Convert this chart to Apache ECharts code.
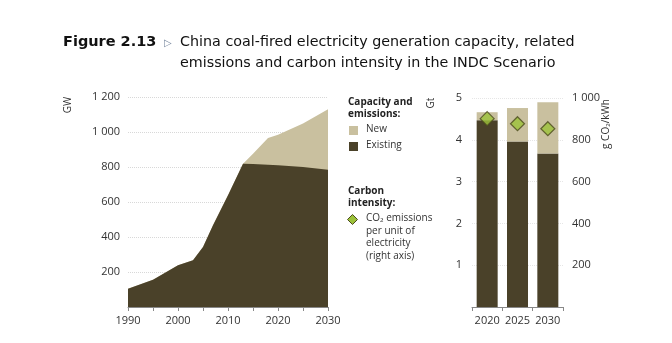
<!DOCTYPE html>
<html><head><meta charset="utf-8">
<script src="https://cdn.jsdelivr.net/npm/echarts@6/dist/echarts.min.js"></script>
<style>html,body{margin:0;padding:0;background:#fff}#c{width:672px;height:343px}</style>
</head><body><div id="c"></div>
<script>
// Capacity (GW)
const capYears = [1990, 1995, 2000, 2003, 2005, 2007, 2010, 2013, 2015, 2018, 2020, 2025, 2030];
const capExisting = [105, 156, 238, 267, 343, 467, 638, 819, 817, 813, 810, 800, 785];
const capNew = [0, 0, 0, 0, 0, 0, 0, 0, 59, 153, 175, 248, 345];
// Emissions (Gt) and carbon intensity (g CO2/kWh)
const emYears = ['2020', '2025', '2030'];
const emExisting = [4.47, 3.96, 3.67];
const emNew = [0.19, 0.80, 1.23];
const intensity = [901, 877, 853];

const cDark = '#4a4129', cLight = '#c9c09f', cGreen = '#9cc23a';
const font = 'Open Sans';
const sp = v => v >= 1000 ? String(v).replace(/(\d)(\d{3})$/, '$1 $2') : String(v);

const capTotal = capExisting.map((v, i) => v + capNew[i]);

const chart = echarts.init(document.getElementById('c'));
chart.setOption({
  animation: false,
  textStyle: {fontFamily: font},
  grid: [
    {left: 128, right: 344, top: 97, bottom: 36},
    {left: 472, right: 109, top: 98, bottom: 36}
  ],
  xAxis: [
    {gridIndex: 0, type: 'value', min: 1990, max: 2030, interval: 5,
     axisLine: {lineStyle: {color: '#888'}}, axisTick: {show: true, length: 4, lineStyle: {color: '#888'}},
     splitLine: {show: false},
     axisLabel: {color: '#333', fontSize: 11, margin: 8, formatter: v => v % 10 === 0 ? String(v) : ''}},
    {gridIndex: 1, type: 'category', data: emYears,
     axisLine: {lineStyle: {color: '#888'}}, axisTick: {show: true, length: 4, lineStyle: {color: '#888'}},
     axisLabel: {color: '#333', fontSize: 11, margin: 8, interval: 0}}
  ],
  yAxis: [
    {gridIndex: 0, type: 'value', min: 0, max: 1200, interval: 200,
     axisLine: {show: false}, axisTick: {show: false},
     splitLine: {lineStyle: {color: '#d8d8d8', type: 'dotted'}},
     axisLabel: {color: '#333', fontSize: 11, margin: 8, formatter: v => v === 0 ? '' : sp(v)}},
    {gridIndex: 1, type: 'value', min: 0, max: 5, interval: 1,
     axisLine: {show: false}, axisTick: {show: false},
     splitLine: {lineStyle: {color: '#e6e6e6', type: 'dotted'}},
     axisLabel: {color: '#333', fontSize: 11, margin: 10, formatter: v => v === 0 ? '' : String(v)}},
    {gridIndex: 1, type: 'value', position: 'right', min: 0, max: 1000, interval: 200,
     axisLine: {show: false}, axisTick: {show: false},
     splitLine: {show: false},
     axisLabel: {color: '#333', fontSize: 11, margin: 9, formatter: v => v === 0 ? '' : sp(v)}}
  ],
  series: [
    {name: 'New', type: 'line', xAxisIndex: 0, yAxisIndex: 0, symbol: 'none',
     data: capYears.map((y, i) => [y, capTotal[i]]),
     lineStyle: {width: 0}, areaStyle: {color: cLight, opacity: 1}, z: 1},
    {name: 'Existing', type: 'line', xAxisIndex: 0, yAxisIndex: 0, symbol: 'none',
     data: capYears.map((y, i) => [y, capExisting[i]]),
     lineStyle: {width: 0}, areaStyle: {color: cDark, opacity: 1}, z: 2},
    {name: 'Existing Gt', type: 'bar', xAxisIndex: 1, yAxisIndex: 1, stack: 'em', barWidth: 21,
     data: emExisting, itemStyle: {color: cDark}},
    {name: 'New Gt', type: 'bar', xAxisIndex: 1, yAxisIndex: 1, stack: 'em', barWidth: 21,
     data: emNew, itemStyle: {color: cLight}},
    {name: 'Intensity', type: 'scatter', xAxisIndex: 1, yAxisIndex: 2, symbol: 'diamond', symbolSize: [14, 14],
     data: intensity, itemStyle: {color: cGreen, borderColor: '#4b4a1e', borderWidth: 1.2}, z: 5}
  ],
  graphic: [
    {type: 'text', left: 63, top: 35, style: {text: 'Figure 2.13', font: 'bold 14.5px "DejaVu Sans"', fill: '#111'}},
    {type: 'text', left: 164, top: 38, style: {text: '▷', font: '10px "DejaVu Sans"', fill: '#7a8aa0'}},
    {type: 'text', left: 180, top: 35, style: {text: 'China coal-fired electricity generation capacity, related', font: '14.3px "DejaVu Sans"', fill: '#111'}},
    {type: 'text', left: 180, top: 56, style: {text: 'emissions and carbon intensity in the INDC Scenario', font: '14.3px "DejaVu Sans"', fill: '#111'}},
    {type: 'text', x: 68, y: 105, rotation: Math.PI / 2, style: {text: 'GW', font: '10px "Open Sans"', fill: '#333', align: 'center', verticalAlign: 'middle'}},
    {type: 'text', x: 431, y: 103, rotation: Math.PI / 2, style: {text: 'Gt', font: '10px "Open Sans"', fill: '#333', align: 'center', verticalAlign: 'middle'}},
    {type: 'text', x: 606, y: 124, rotation: Math.PI / 2, style: {text: 'g CO₂/kWh', font: '10px "Open Sans"', fill: '#333', align: 'center', verticalAlign: 'middle'}},
    {type: 'text', left: 348, top: 96, style: {text: 'Capacity and\nemissions:', font: 'bold 10px "Open Sans"', fill: '#222', lineHeight: 12}},
    {type: 'rect', left: 349, top: 126, shape: {width: 9, height: 9}, style: {fill: cLight}},
    {type: 'text', left: 366, top: 124, style: {text: 'New', font: '10px "Open Sans"', fill: '#333'}},
    {type: 'rect', left: 349, top: 142, shape: {width: 9, height: 9}, style: {fill: cDark}},
    {type: 'text', left: 366, top: 140, style: {text: 'Existing', font: '10px "Open Sans"', fill: '#333'}},
    {type: 'text', left: 348, top: 185, style: {text: 'Carbon\nintensity:', font: 'bold 10px "Open Sans"', fill: '#222', lineHeight: 12}},
    {type: 'polygon', left: 347, top: 214, shape: {points: [[5, 0], [10, 5], [5, 10], [0, 5]]}, style: {fill: cGreen, stroke: '#4b4a1e', lineWidth: 1}},
    {type: 'text', left: 366, top: 212, style: {text: 'CO₂ emissions\nper unit of\nelectricity\n(right axis)', font: '10px "Open Sans"', fill: '#333', lineHeight: 12.5}}
  ]
});
</script></body></html>
